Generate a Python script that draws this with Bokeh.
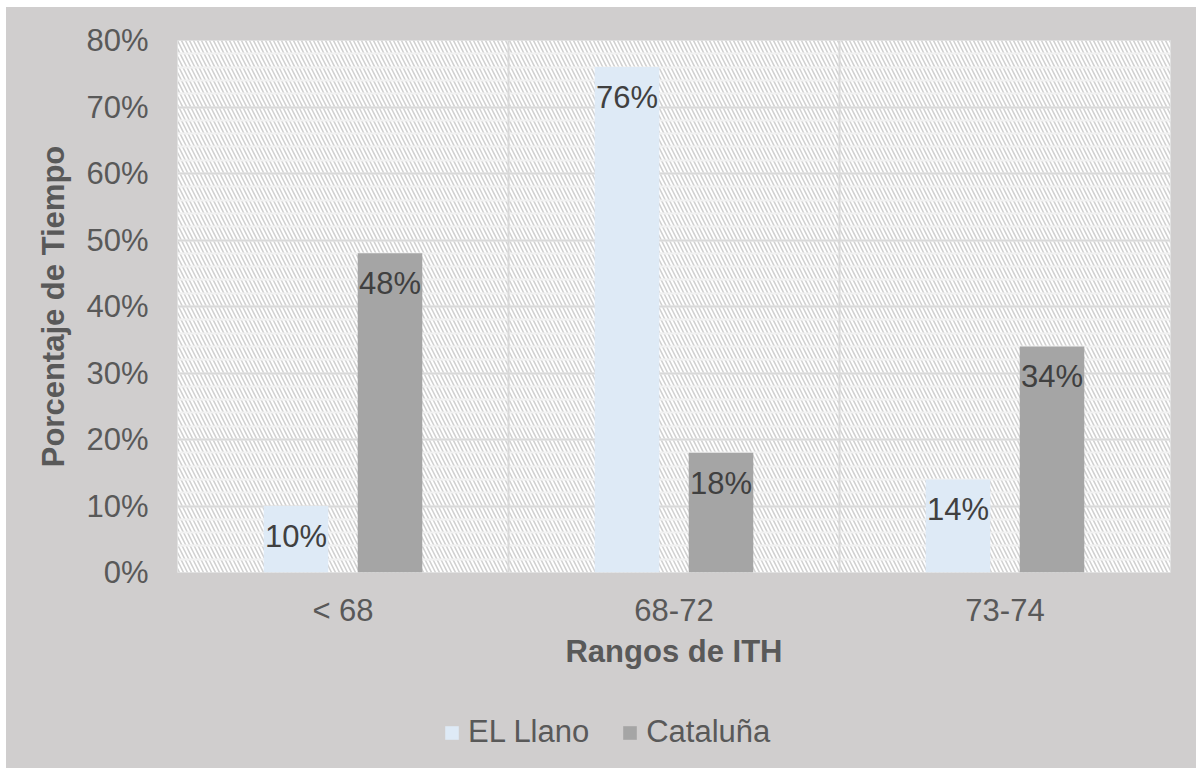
from bokeh.plotting import figure
from bokeh.models import (ColumnDataSource, FactorRange, BoxAnnotation, Span, Legend, LegendItem,
                          SingleIntervalTicker, PrintfTickFormatter, Spacer, Range1d)
from bokeh.core.properties import value
from bokeh.transform import dodge
from bokeh.layouts import column, row
from bokeh.embed import file_html
from bokeh.resources import INLINE

categories = ["< 68", "68-72", "73-74"]
el_llano = [10, 76, 14]
cataluna = [48, 18, 34]
series_names = ["EL Llano", "Cataluña"]
y_ticks_max = 80

FONT = "Liberation Sans"
TXT = "#595959"
BG = "#D0CECE"
C_LLANO = "#DEEAF6"
C_CAT = "#A5A5A5"

src = ColumnDataSource(dict(
    cat=categories,
    llano=el_llano,
    cat_v=cataluna,
    llano_lbl=[f"{v}%" for v in el_llano],
    cat_lbl=[f"{v}%" for v in cataluna],
))

p = figure(x_range=FactorRange(factors=categories), y_range=Range1d(0, y_ticks_max),
           width=1190, height=690, output_backend="svg", toolbar_location=None,
           min_border_left=171, min_border_right=26, min_border_top=33, min_border_bottom=125)
p.background_fill_color = "white"
p.border_fill_color = BG
p.outline_line_color = "#D9D9D9"
p.outline_line_width = 1

hatch = BoxAnnotation(fill_color="white", fill_alpha=1.0, line_color=None,
                      hatch_pattern="\\", hatch_color="#D0D0D0", hatch_scale=8, hatch_weight=1.5,
                      level="image")
p.add_layout(hatch)

# grids
p.ygrid.ticker = SingleIntervalTicker(interval=10, num_minor_ticks=5)
p.ygrid.grid_line_color = "#D9D9D9"
p.ygrid.grid_line_width = 2
p.ygrid.minor_grid_line_color = "#F2F2F2"
p.ygrid.minor_grid_line_width = 2
p.xgrid.grid_line_color = None
for loc in [1, 2]:
    p.add_layout(Span(location=loc, dimension="height", line_color="#D9D9D9", line_width=2, level="underlay"))

w = 0.195
off = 0.142
p.vbar(x=dodge("cat", -off, range=p.x_range), top="llano", width=w, source=src,
       fill_color=C_LLANO, line_color=None)
p.vbar(x=dodge("cat", off, range=p.x_range), top="cat_v", width=w, source=src,
       fill_color=C_CAT, line_color=None)

p.text(x=dodge("cat", -off, range=p.x_range), y="llano", text="llano_lbl", source=src,
       text_align="center", text_baseline="top", y_offset=13,
       text_font=value(FONT), text_font_size="31px", text_color="#404040")
p.text(x=dodge("cat", off, range=p.x_range), y="cat_v", text="cat_lbl", source=src,
       text_align="center", text_baseline="top", y_offset=13,
       text_font=value(FONT), text_font_size="31px", text_color="#404040")

# axes
p.yaxis.ticker = SingleIntervalTicker(interval=10)
p.yaxis.formatter = PrintfTickFormatter(format="%d%%")
p.yaxis.axis_label = "Porcentaje de Tiempo"
p.xaxis.axis_label = "Rangos de ITH"
for ax in [p.xaxis[0], p.yaxis[0]]:
    ax.axis_line_color = None
    ax.major_tick_line_color = None
    ax.minor_tick_line_color = None
    ax.major_tick_out = 0
    ax.minor_tick_out = 0
    ax.major_label_text_font = FONT
    ax.major_label_text_font_size = "31px"
    ax.major_label_text_color = TXT
    ax.axis_label_text_font = FONT
    ax.axis_label_text_font_size = "31px"
    ax.axis_label_text_font_style = "bold"
    ax.axis_label_text_color = TXT
p.yaxis.major_label_standoff = 29
p.yaxis.axis_label_standoff = 12
p.xaxis.major_label_standoff = 20
p.xaxis.axis_label_standoff = 3

# legend strip (separate figure, same gray background)
lg = figure(x_range=FactorRange(factors=categories), y_range=Range1d(1000, 2000),
            width=1190, height=71, output_backend="svg", toolbar_location=None,
            min_border_left=171, min_border_right=26, min_border_top=0, min_border_bottom=0,
            x_axis_type=None, y_axis_type=None)
lg.background_fill_color = BG
lg.border_fill_color = BG
lg.outline_line_color = None
lg.grid.grid_line_color = None
l1 = lg.vbar(x="cat", top="llano", width=w, source=src, fill_color=C_LLANO, line_color=None)
l2 = lg.vbar(x="cat", top="cat_v", width=w, source=src, fill_color=C_CAT, line_color=None)
legend = Legend(items=[LegendItem(label=series_names[0], renderers=[l1]),
                       LegendItem(label=series_names[1], renderers=[l2])],
                orientation="horizontal", location=(266, 18),
                glyph_width=17, glyph_height=17, label_standoff=8, spacing=32,
                padding=0, margin=0, border_line_color=None, background_fill_alpha=0,
                label_text_font=FONT, label_text_font_size="31px", label_text_color=TXT)
lg.add_layout(legend, "center")

inner = column(p, lg, spacing=0, styles={"background-color": BG})
layout = column(Spacer(height=7), row(Spacer(width=6), inner), spacing=0)
open("out.html", "w").write(file_html(layout, INLINE))
